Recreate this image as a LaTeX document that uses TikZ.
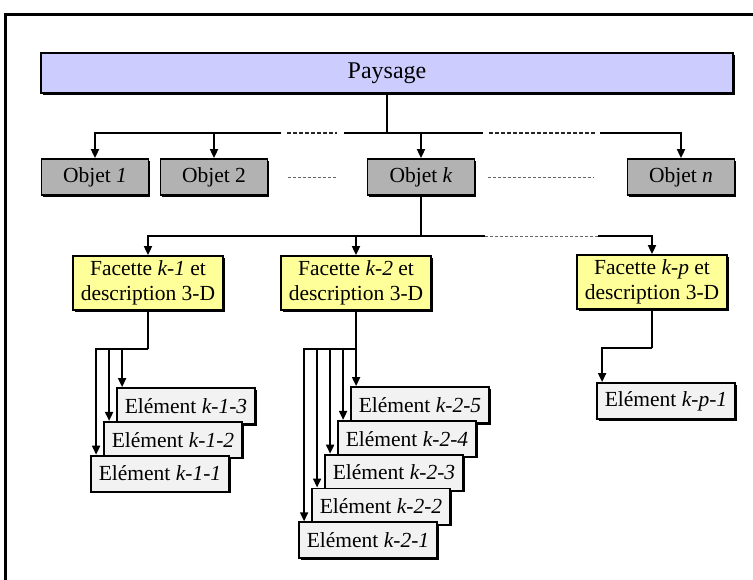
\documentclass[tikz,border=0pt]{standalone}
\usepackage{fontspec}
\setmainfont{Liberation Serif}
\usepackage{tikz}
\usetikzlibrary{arrows.meta, shadows, positioning}

\definecolor{lavande}{RGB}{204,204,255}
\definecolor{jaune}{RGB}{255,255,153}
\definecolor{grisobj}{RGB}{178,178,178}
\definecolor{grisclair}{RGB}{242,242,242}

\begin{document}
\begin{tikzpicture}[x=1pt, y=1pt, node distance=-4pt]

% Styles
\tikzset{
    boite/.style={rectangle, draw, line width=1.8pt, inner sep=0pt, text centered, font=\fontsize{21.5}{25}\selectfont, drop shadow={shadow xshift=1.5pt, shadow yshift=-1.5pt, fill=black, opacity=1}},
    paysage/.style={boite, fill=lavande, minimum width=692pt, minimum height=40pt, font=\fontsize{24}{28}\selectfont},
    objet/.style={boite, fill=grisobj, minimum width=107pt, minimum height=36pt},
    facette/.style={boite, fill=jaune, minimum width=150pt, minimum height=54pt, align=center},
    element/.style={boite, fill=grisclair, minimum width=138pt, minimum height=36pt},
    ligne/.style={line width=1.8pt},
    arrow/.style={-{Triangle[length=9pt, width=8pt]}, line width=1.8pt},
    pointilles/.style={line width=1.8pt, dash pattern=on 4pt off 2pt, black!85},
    suite/.style={line width=1pt, dash pattern=on 3pt off 2pt, black!60}
}

\useasboundingbox (0,0) rectangle (753,-579);

% Cadre
\draw [line width=3pt] (5,-585) -- (5,-14) -- (760,-14);

% Noeuds
\node (pays) [paysage] at (387,-73) {Paysage};
\node (o1) [objet] at (95,-177) {Objet \textit{1}};
\node (o2) [objet] at (214,-177) {Objet 2};
\node (ok) [objet] at (421,-177) {Objet \textit{k}};
\node (on) [objet] at (681,-177) {Objet \textit{n}};

\node (f1) [facette] at (148,-283) {Facette \textit{k-1} et\\description 3-D};
\node (f2) [facette] at (356,-283) {Facette \textit{k-2} et\\description 3-D};
\node (fp) [facette] at (652,-282) {Facette \textit{k-p} et\\description 3-D};

\node (e13) [element] at (186,-406) {Elément \textit{k-1-3}};
\node (e12) [element, below=of e13, xshift=-13pt] {Elément \textit{k-1-2}};
\node (e11) [element, below=of e12, xshift=-13pt] {Elément \textit{k-1-1}};

\node (e25) [element] at (420,-405) {Elément \textit{k-2-5}};
\node (e24) [element, below=of e25, xshift=-13pt] {Elément \textit{k-2-4}};
\node (e23) [element, below=of e24, xshift=-13pt] {Elément \textit{k-2-3}};
\node (e22) [element, below=of e23, xshift=-13pt] {Elément \textit{k-2-2}};
\node (e21) [element, below=of e22, xshift=-13pt] {Elément \textit{k-2-1}};

\node (ep1) [element] at (666,-401) {Elément \textit{k-p-1}};

% Points de jonction
\coordinate (bus1) at (387,-133);
\coordinate (g1) at (281,-133);
\coordinate (g2) at (344,-133);
\coordinate (g3) at (483,-133);
\coordinate (g4) at (600,-133);
\coordinate (bus2) at (421,-236);
\coordinate (g5) at (485,-236);
\coordinate (g6) at (598,-236);
\coordinate (h1) at (148,-349);
\coordinate (h2) at (356,-349);
\coordinate (hp) at (652,-348);

% Fleches
\draw [ligne] (pays) -- (bus1);
\draw [arrow] (g1) -| (o1);
\draw [arrow] (o2 |- bus1) -- (o2);
\draw [ligne] (g2) -- (g3);
\draw [arrow] (ok |- bus1) -- (ok);
\draw [arrow] (g4) -| (on);
\draw [pointilles, shorten <=6pt, shorten >=7pt] (g1) -- (g2);
\draw [pointilles, shorten <=6pt, shorten >=4pt] (g3) -- (g4);
\draw [suite, shorten <=20pt, shorten >=30pt] (o2) -- (ok);
\draw [suite, shorten <=13pt, shorten >=33pt] (ok) -- (on);

\draw [ligne] (ok) -- (bus2);
\draw [arrow] (bus2) -| (f1);
\draw [arrow] (f2 |- bus2) -- (f2);
\draw [ligne] (bus2) -- (g5);
\draw [suite] (g5) -- (g6);
\draw [arrow] (g6) -| (fp);

\draw [ligne] (f1) -- (h1);
\draw [arrow] (h1) -| ([xshift=6pt]e13.north west);
\draw [arrow] (h1) -| ([xshift=6pt]e12.north west);
\draw [arrow] (h1) -| ([xshift=6pt]e11.north west);

\draw [ligne] (f2) -- (h2);
\draw [arrow] (h2) -| ([xshift=6pt]e25.north west);
\draw [arrow] (h2) -| ([xshift=6pt]e24.north west);
\draw [arrow] (h2) -| ([xshift=6pt]e23.north west);
\draw [arrow] (h2) -| ([xshift=6pt]e22.north west);
\draw [arrow] (h2) -| ([xshift=6pt]e21.north west);

\draw [ligne] (fp) -- (hp);
\draw [arrow] (hp) -| ([xshift=6pt]ep1.north west);

\end{tikzpicture}
\end{document}
